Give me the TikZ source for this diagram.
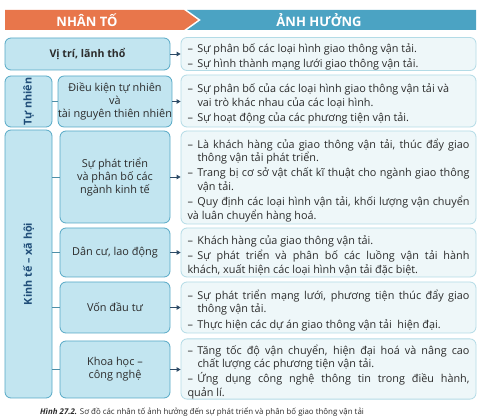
\documentclass[tikz,border=0pt]{standalone}
\usepackage{fontspec}
\setmainfont{Open Sans}
\usetikzlibrary{arrows.meta}
\definecolor{orangeH}{HTML}{E8764B}
\definecolor{blueH}{HTML}{4BA3C3}
\definecolor{lfill}{HTML}{C2E5F0}
\definecolor{ldraw}{HTML}{56A9C6}
\definecolor{rfill}{HTML}{EEF7F9}
\definecolor{rdraw}{HTML}{B3DBE6}
\definecolor{navy}{HTML}{1F4D78}
\definecolor{txt}{HTML}{2B2B2B}
\definecolor{arr}{HTML}{2D4A66}
\definecolor{conn}{HTML}{4E8FA8}
\newcommand\bl[1]{\par\hangindent=10pt\hangafter=1\noindent\makebox[10pt][l]{–}#1}
\tikzset{
  lbox/.style={draw=ldraw, fill=lfill, line width=0.8pt, rounded corners=6pt,
    align=center, text=txt, inner sep=0pt, font=\fontsize{10.9}{13}\selectfont},
  rbox/.style={draw=rdraw, fill=rfill, line width=0.8pt, rounded corners=6pt,
    text=txt, text width=282pt, inner xsep=6.5pt, inner ysep=0pt, align=justify,
    minimum width=295pt,
    font=\fontsize{10.85}{13.6}\selectfont\setlength\parskip{1.6pt}},
  vlab/.style={rotate=90, text=navy, font=\fontsize{10.8}{12}\selectfont\bfseries},
  hdr/.style={text=white, font=\fontsize{13}{15}\selectfont\bfseries},
  link/.style={draw=conn, line width=0.8pt},
  arrw/.style={draw=arr, line width=0.8pt, -{Triangle[length=4pt,width=4.5pt]}}
}
\begin{document}
\begin{tikzpicture}[x=1pt,y=-1pt]
\useasboundingbox (0,0) rectangle (485,419);
\fill[white] (0,0) rectangle (485,419);
% header
\fill[orangeH] (5,10) -- (184,10) -- (198,20) -- (184,30) -- (5,30) -- cycle;
\fill[blueH] (187,10) -- (476,10) -- (476,30) -- (187,30) -- (201,20) -- cycle;
\node[hdr] (hdrL) at (87,20) {NHÂN TỐ};
\node[hdr] (hdrR) at (319,20) {ẢNH HƯỞNG};
% left boxes
\node[lbox, minimum width=165pt, minimum height=32pt, font=\fontsize{10.6}{12.5}\selectfont\bfseries] (vitri) at (87.5,54) {Vị trí, lãnh thổ};
\node[lbox, minimum width=47pt, minimum height=51pt] (tunhien) at (28.5,101.5) {};
\node[vlab] (tunhienL) at (tunhien) {Tự nhiên};
\node[lbox, minimum width=110pt, minimum height=51pt] (dkien) at (115,101.5) {Điều kiện tự nhiên\\và\\tài nguyên thiên nhiên};
\node[lbox, minimum width=47pt, minimum height=268pt] (ktxh) at (28.5,264) {};
\node[vlab] (ktxhL) at (ktxh) {Kinh tế – xã hội};
\node[lbox, minimum width=110pt, minimum height=92pt] (ptkt) at (115,177) {Sự phát triển\\và phân bố các\\ngành kinh tế};
\node[lbox, minimum width=110pt, minimum height=49pt] (dancu) at (115,252.5) {Dân cư, lao động};
\node[lbox, minimum width=110pt, minimum height=51pt] (von) at (115,307.5) {Vốn đầu tư};
\node[lbox, minimum width=110pt, minimum height=57pt] (khoahoc) at (115,369.5) {Khoa học –\\công nghệ};
% right boxes
\node[rbox, minimum height=32pt] (r1) at (328.5,54) {%
\bl{Sự phân bố các loại hình giao thông vận tải.}
\bl{Sự hình thành mạng lưới giao thông vận tải.}};
\node[rbox, minimum height=52pt] (r2) at (328.5,101) {%
\bl{Sự phân bố của các loại hình giao thông vận tải và\newline vai trò khác nhau của các loại hình.}
\bl{Sự hoạt động của các phương tiện vận tải.}};
\node[rbox, minimum height=93pt] (r3) at (328.5,177.5) {%
\bl{Là khách hàng của giao thông vận tải, thúc đẩy giao\linebreak thông vận tải phát triển.}
\bl{Trang bị cơ sở vật chất kĩ thuật cho ngành giao thông\linebreak vận tải.}
\bl{Quy định các loại hình vận tải, khối lượng vận chuyển\linebreak và luân chuyển hàng hoá.}};
\node[rbox, minimum height=49pt] (r4) at (328.5,252.5) {%
\bl{Khách hàng của giao thông vận tải.}
\bl{Sự phát triển và phân bố các luồng vận tải hành\linebreak khách, xuất hiện các loại hình vận tải đặc biệt.}};
\node[rbox, minimum height=51pt] (r5) at (328.5,307.5) {%
\bl{Sự phát triển mạng lưới, phương tiện thúc đẩy giao\linebreak thông vận tải.}
\bl{Thực hiện các dự án giao thông vận tải\ \ hiện đại.}};
\node[rbox, minimum height=56pt] (r6) at (328.5,369) {%
\bl{Tăng tốc độ vận chuyển, hiện đại hoá và nâng cao\linebreak chất lượng các phương tiện vận tải.}
\bl{Ứng dụng công nghệ thông tin trong điều hành,\linebreak quản lí.}};
% connectors
\draw[link] (tunhien.east |- dkien.west) -- (dkien.west);
\foreach \n in {ptkt,dancu,von,khoahoc}{
  \draw[link] (ktxh.east |- \n.west) -- (\n.west);
}
\draw[arrw] (vitri.east) -- (vitri.east -| r1.west);
\draw[arrw] (dkien.east) -- (dkien.east -| r2.west);
\draw[arrw] (ptkt.east) -- (ptkt.east -| r3.west);
\draw[arrw] (dancu.east) -- (dancu.east -| r4.west);
\draw[arrw] (von.east) -- (von.east -| r5.west);
\draw[arrw] (khoahoc.east) -- (khoahoc.east -| r6.west);
% caption
\node[anchor=west, text=txt, font=\fontsize{7.9}{10}\selectfont, inner sep=0pt] (cap) at (40,412) {\textbf{\textit{Hình 27.2.}} Sơ đồ các nhân tố ảnh hưởng đến sự phát triển và phân bố giao thông vận tải};
\end{tikzpicture}
\end{document}
